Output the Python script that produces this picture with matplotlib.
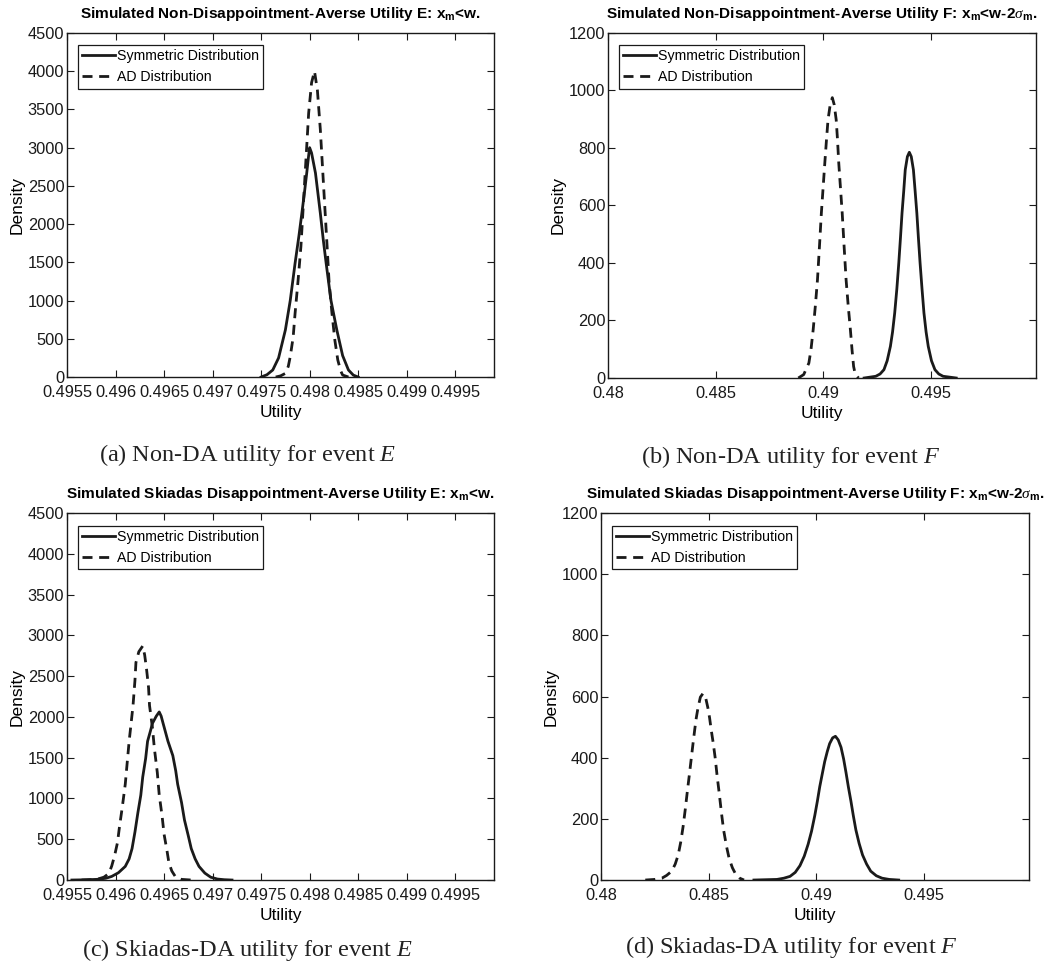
"""
Densidades simuladas de utilidad: modelo sin aversión a la decepción (a, b)
y modelo DA de Skiadas (c, d), para los eventos E y F.
Curvas leídas a mano de las densidades kernel de la simulación.
"""

import matplotlib
matplotlib.use('Agg')
import matplotlib.pyplot as plt
from matplotlib.ticker import MultipleLocator, FormatStrFormatter

plt.rcParams['font.family'] = ['Liberation Sans', 'DejaVu Sans']
plt.rcParams['mathtext.fontset'] = 'custom'
plt.rcParams['mathtext.rm'] = 'Liberation Sans'
plt.rcParams['mathtext.bf'] = 'Liberation Sans:bold'
plt.rcParams['mathtext.it'] = 'Liberation Serif:italic'

# ── Datos: (utilidad, densidad) ───────────────────────────────────────────
# (a) Non-DA, evento E
a_sym_x = [0.49750, 0.49756, 0.49762, 0.49768, 0.49775, 0.49780, 0.49785,
           0.49789, 0.49792, 0.49795, 0.49797, 0.49799, 0.49800, 0.49802,
           0.49806, 0.49811, 0.49814, 0.49817, 0.49822, 0.49828, 0.49834,
           0.49840, 0.49845, 0.49850]
a_sym_y = [0, 30, 92, 250, 616, 1000, 1489,
           1850, 2144, 2450, 2668, 2900, 3000, 2930,
           2668, 2144, 1800, 1489, 1000, 616, 280,
           92, 25, 0]
a_ad_x = [0.49765, 0.49770, 0.49775, 0.49778, 0.49780, 0.49783, 0.49785,
          0.49788, 0.49791, 0.49794, 0.49797, 0.49799, 0.49802, 0.49805,
          0.49808, 0.49811, 0.49814, 0.49818, 0.49820, 0.49823, 0.49826,
          0.49829, 0.49832, 0.49834, 0.49840]
a_ad_y = [0, 15, 48, 140, 266, 520, 834,
          1250, 1707, 2362, 3017, 3454, 3850, 4000,
          3750, 3240, 2581, 1707, 1250, 834, 480,
          223, 80, 26, 0]

# (b) Non-DA, evento F
b_sym_x = [0.49191, 0.49245, 0.49265, 0.49283, 0.49298, 0.49313, 0.49323,
           0.49333, 0.49343, 0.49352, 0.49360, 0.49367, 0.49375, 0.49382,
           0.49392, 0.49401, 0.49410, 0.49420, 0.49428, 0.49436, 0.49443,
           0.49451, 0.49460, 0.49469, 0.49479, 0.49489, 0.49504, 0.49520,
           0.49538, 0.49558, 0.49619]
b_sym_y = [0, 6, 14, 29, 60, 110, 160,
           226, 310, 400, 490, 573, 650, 724,
           770, 785, 770, 724, 650, 573, 490,
           400, 310, 226, 160, 110, 60, 29,
           14, 6, 0]
b_ad_x = [0.48885, 0.48910, 0.48934, 0.48944, 0.48954, 0.48964, 0.48974,
          0.48983, 0.48992, 0.49000, 0.49008, 0.49016, 0.49023, 0.49033,
          0.49043, 0.49052, 0.49061, 0.49067, 0.49073, 0.49081, 0.49089,
          0.49098, 0.49107, 0.49117, 0.49127, 0.49135, 0.49142, 0.49150,
          0.49165]
b_ad_y = [0, 12, 52, 100, 168, 250, 342,
          455, 573, 660, 747, 830, 898, 950,
          975, 950, 898, 830, 747, 660, 573,
          455, 342, 250, 168, 95, 40, 12,
          0]

# (c) Skiadas-DA, evento E
c_sym_x = [0.49555, 0.49570, 0.49582, 0.49590, 0.49596, 0.49603, 0.49610,
           0.49614, 0.49617, 0.49620, 0.49623, 0.49626, 0.49628, 0.49631,
           0.49633, 0.49636, 0.49638, 0.49642, 0.49645, 0.49647, 0.49649,
           0.49654, 0.49659, 0.49662, 0.49664, 0.49668, 0.49671, 0.49675,
           0.49678, 0.49682, 0.49686, 0.49692, 0.49698, 0.49705, 0.49712,
           0.49720]
c_sym_y = [0, 3, 9, 22, 44, 90, 167,
           260, 386, 590, 825, 1040, 1263, 1490,
           1702, 1830, 1921, 2010, 2061, 2010, 1921,
           1702, 1526, 1340, 1175, 950, 737, 540,
           386, 260, 167, 85, 35, 12, 4,
           0]
c_ad_x = [0.49565, 0.49575, 0.49582, 0.49588, 0.49593, 0.49596, 0.49599,
          0.49602, 0.49604, 0.49607, 0.49610, 0.49612, 0.49614, 0.49616,
          0.49618, 0.49620, 0.49621, 0.49624, 0.49628, 0.49630, 0.49632,
          0.49634, 0.49635, 0.49638, 0.49640, 0.49643, 0.49645, 0.49648,
          0.49650, 0.49653, 0.49655, 0.49658, 0.49662, 0.49668, 0.49678]
c_ad_y = [0, 5, 13, 35, 79, 170, 298,
          460, 649, 900, 1175, 1440, 1702, 1920,
          2140, 2450, 2667, 2800, 2870, 2760, 2579,
          2360, 2140, 1870, 1614, 1320, 1044, 780,
          561, 360, 210, 110, 35, 8, 0]

# (d) Skiadas-DA, evento F
d_sym_x = [0.48711, 0.48818, 0.48850, 0.48879, 0.48903, 0.48925, 0.48945,
           0.48963, 0.48979, 0.48994, 0.49006, 0.49017, 0.49029, 0.49040,
           0.49052, 0.49063, 0.49077, 0.49090, 0.49103, 0.49116, 0.49128,
           0.49139, 0.49150, 0.49162, 0.49173, 0.49185, 0.49200, 0.49216,
           0.49235, 0.49254, 0.49280, 0.49307, 0.49340, 0.49384]
d_sym_y = [0, 2, 6, 12, 25, 47, 78,
           117, 160, 211, 258, 305, 348, 387,
           420, 446, 465, 470, 458, 434, 396,
           352, 305, 258, 211, 164, 120, 82,
           52, 29, 14, 6, 2, 0]
d_ad_x = [0.48206, 0.48250, 0.48283, 0.48305, 0.48329, 0.48345, 0.48359,
          0.48371, 0.48382, 0.48392, 0.48402, 0.48411, 0.48420, 0.48428,
          0.48436, 0.48443, 0.48451, 0.48462, 0.48474, 0.48486, 0.48497,
          0.48505, 0.48512, 0.48522, 0.48531, 0.48540, 0.48550, 0.48560,
          0.48570, 0.48583, 0.48596, 0.48611, 0.48627, 0.48645, 0.48665]
d_ad_y = [0, 2, 6, 15, 29, 52, 82,
          125, 176, 232, 293, 345, 399, 447,
          493, 530, 563, 598, 610, 598, 563,
          530, 493, 447, 399, 340, 282, 220,
          164, 112, 70, 40, 18, 6, 0]

TITLE_E = 'Simulated {} Utility E: x$_{{\\mathbf{{m}}}}$<w.'
TITLE_F = 'Simulated {} Utility F: x$_{{\\mathbf{{m}}}}$<w-2$\\sigma_{{\\mathbf{{m}}}}$.'

PANELS = [
    dict(rect=[0.0633, 0.6133, 0.4032, 0.3529],
         title=TITLE_E.format('Non-Disappointment-Averse'),
         sym=(a_sym_x, a_sym_y), ad=(a_ad_x, a_ad_y),
         xlim=(0.4955, 0.49990), xstep=0.0005,
         ylim=(0, 4500), ystep=500,
         cap='(a) Non-DA utility for event $\\mathit{E}$', cap_xy=(0.234, 0.533)),
    dict(rect=[0.5741, 0.6123, 0.4042, 0.3539],
         title=TITLE_F.format('Non-Disappointment-Averse'),
         sym=(b_sym_x, b_sym_y), ad=(b_ad_x, b_ad_y),
         xlim=(0.48, 0.49990), xstep=0.005,
         ylim=(0, 1200), ystep=200,
         cap='(b) Non-DA utility for event $\\mathit{F}$', cap_xy=(0.747, 0.531)),
    dict(rect=[0.0633, 0.0974, 0.4032, 0.3764],
         title=TITLE_E.format('Skiadas Disappointment-Averse'),
         sym=(c_sym_x, c_sym_y), ad=(c_ad_x, c_ad_y),
         xlim=(0.4955, 0.49990), xstep=0.0005,
         ylim=(0, 4500), ystep=500,
         cap='(c) Skiadas-DA utility for event $\\mathit{E}$', cap_xy=(0.234, 0.026)),
    dict(rect=[0.5675, 0.0974, 0.4042, 0.3764],
         title=TITLE_F.format('Skiadas Disappointment-Averse'),
         sym=(d_sym_x, d_sym_y), ad=(d_ad_x, d_ad_y),
         xlim=(0.48, 0.49990), xstep=0.005,
         ylim=(0, 1200), ystep=200,
         cap='(d) Skiadas-DA utility for event $\\mathit{F}$', cap_xy=(0.747, 0.029)),
]

INK = '#1a1a1a'

fig = plt.figure(figsize=(10.59, 9.75), dpi=100)

for p in PANELS:
    ax = fig.add_axes(p['rect'])
    ax.plot(*p['sym'], '-', color=INK, lw=2.0, solid_joinstyle='round',
            label='Symmetric Distribution')
    ax.plot(*p['ad'], '--', color=INK, lw=2.0, dashes=(3.6, 2.4),
            label='AD Distribution')

    ax.set_xlim(*p['xlim'])
    ax.set_ylim(*p['ylim'])
    ax.xaxis.set_major_locator(MultipleLocator(p['xstep']))
    ax.xaxis.set_major_formatter(FormatStrFormatter('%g'))
    ax.yaxis.set_major_locator(MultipleLocator(p['ystep']))
    ax.tick_params(direction='in', top=True, right=True, length=5,
                   width=0.8, labelsize=11.8, colors=INK)
    ax.tick_params(axis='x', pad=6)
    ax.tick_params(axis='y', pad=2)
    for s in ax.spines.values():
        s.set_linewidth(1.0)
        s.set_color(INK)

    ax.set_title(p['title'], fontsize=11.1, fontweight='bold', pad=11)
    ax.set_xlabel('Utility', fontsize=12.5, labelpad=3)
    ax.set_ylabel('Density', fontsize=12.5, labelpad=2)

    leg = ax.legend(loc='upper left', bbox_to_anchor=(0.026, 0.965),
                    borderaxespad=0, fontsize=10.2, handlelength=2.3,
                    handletextpad=0.15, labelspacing=0.5, borderpad=0.3,
                    fancybox=False, framealpha=1)
    leg.get_frame().set_edgecolor(INK)
    leg.get_frame().set_linewidth(0.9)

    fig.text(*p['cap_xy'], p['cap'], ha='center', va='center',
             fontsize=17.5, family='Liberation Serif', color='#222222')

fig.savefig('out.png', dpi=100)
